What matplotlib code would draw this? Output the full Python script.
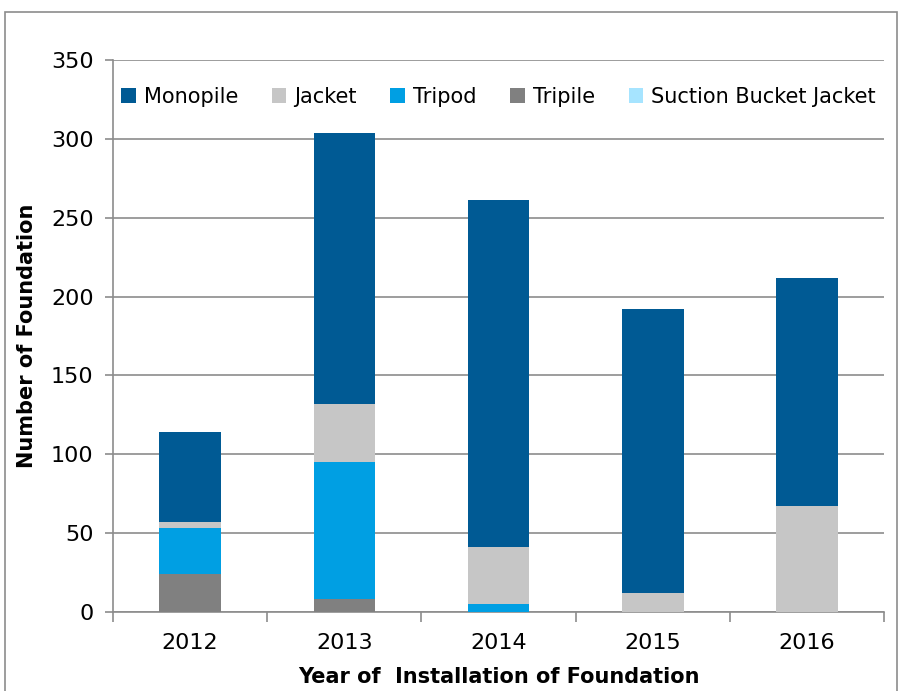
import numpy as np
import matplotlib.pyplot as plt
from matplotlib.patches import Rectangle

plt.rcParams['font.family'] = ['DejaVu Sans']

years = ['2012', '2013', '2014', '2015', '2016']
monopile = [57, 172, 220, 180, 145]
jacket = [4, 37, 36, 12, 67]
tripod = [29, 87, 5, 0, 0]
tripile = [24, 8, 0, 0, 0]
suction = [0, 0, 0, 0, 0]

fig = plt.figure(figsize=(9, 6.91), dpi=100)
ax = fig.add_axes([0.1256, 0.1143, 0.8567, 0.7989])

# border round the whole chart
fig.patches.append(Rectangle((0.006, -0.05), 0.991, 1.033, transform=fig.transFigure,
                             fill=False, edgecolor='#8c8c8c', lw=1.2))

x = np.arange(len(years))
w = 0.40
bottom = np.zeros(len(years))
series = [('Tripile', tripile, '#808080'),
          ('Tripod', tripod, '#009FE3'),
          ('Jacket', jacket, '#C6C6C6'),
          ('Monopile', monopile, '#005A94'),
          ('Suction Bucket Jacket', suction, '#A6E4FF')]
bars = {}
for name, vals, col in series:
    bars[name] = ax.bar(x, vals, w, bottom=bottom, color=col, label=name, zorder=3)
    bottom += np.array(vals)

ax.set_xlim(-0.5, len(years) - 0.5)
ax.set_ylim(0, 350)
ax.set_yticks(range(0, 351, 50))
ax.set_xticks(x)
ax.set_xticklabels(years)
ax.set_xticks(np.arange(-0.5, len(years), 1), minor=True)
ax.tick_params(axis='x', which='major', length=0, labelsize=16, pad=15)
ax.tick_params(axis='x', which='minor', length=7, color='#8c8c8c', width=1.2)
ax.tick_params(axis='y', length=6, color='#8c8c8c', width=1.2, labelsize=16, pad=8)
ax.grid(axis='y', color='#8c8c8c', lw=1.2, zorder=0)
for s in ['top', 'right']:
    ax.spines[s].set_visible(False)
for s in ['left', 'bottom']:
    ax.spines[s].set_color('#8c8c8c')
    ax.spines[s].set_linewidth(1.2)

ax.set_ylabel('Number of Foundation', fontsize=15, fontweight='bold', labelpad=10)
ax.set_xlabel('Year of  Installation of Foundation', fontsize=15, fontweight='bold', labelpad=10)

order = ['Monopile', 'Jacket', 'Tripod', 'Tripile', 'Suction Bucket Jacket']
ax.legend([bars[n] for n in order], order, ncol=5, frameon=False, loc='upper center',
          bbox_to_anchor=(0.5, 0.985), fontsize=15, handlelength=0.7, handleheight=0.7,
          handletextpad=0.4, columnspacing=1.6)

fig.savefig('out.png', dpi=100)
